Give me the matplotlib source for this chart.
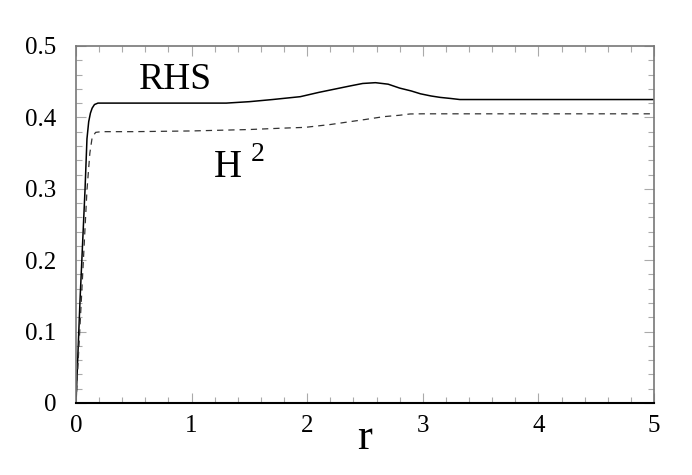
import numpy as np
import matplotlib.pyplot as plt

# RHS curve (solid)
r_rhs = [0.0, 0.035, 0.078, 0.095, 0.11, 0.125, 0.14, 0.16, 0.19, 0.5, 1.0, 1.3, 1.5, 1.7, 1.94, 2.1, 2.25, 2.37, 2.48, 2.59, 2.7, 2.8, 2.9, 2.98, 3.07, 3.15, 3.24, 3.32, 3.5, 4.0, 5.0]
v_rhs = [0.0, 0.144, 0.298, 0.370, 0.394, 0.406, 0.413, 0.418, 0.420, 0.420, 0.420, 0.420, 0.422, 0.425, 0.429, 0.435, 0.440, 0.444, 0.4475, 0.4486, 0.4465, 0.441, 0.437, 0.433, 0.430, 0.428, 0.4265, 0.425, 0.425, 0.425, 0.425]

# H^2 curve (dashed)
r_h2 = [0.0, 0.045, 0.095, 0.12, 0.14, 0.17, 0.22, 0.5, 1.0, 1.5, 1.8, 1.98, 2.2, 2.37, 2.5, 2.66, 2.8, 2.89, 3.0, 3.5, 5.0]
v_h2 = [0.0, 0.14, 0.298, 0.350, 0.372, 0.379, 0.380, 0.380, 0.381, 0.383, 0.385, 0.386, 0.390, 0.394, 0.397, 0.401, 0.403, 0.4048, 0.405, 0.405, 0.405]

xticks = [0, 1, 2, 3, 4, 5]
yticks = [0, 0.1, 0.2, 0.3, 0.4, 0.5]
ytick_labels = ['0', '0.1', '0.2', '0.3', '0.4', '0.5']

plt.rcParams['font.family'] = 'serif'
plt.rcParams['font.serif'] = ['Liberation Serif', 'DejaVu Serif']

fig = plt.figure(figsize=(6.92, 4.75), dpi=100)
ax = fig.add_axes([0.1098, 0.1516, 0.8354, 0.7516])

ax.plot(r_rhs, v_rhs, color='black', lw=1.1)
ax.plot(r_h2, v_h2, color='#333333', lw=0.9, dashes=(5, 4))

ax.set_xlim(0, 5)
ax.set_ylim(0, 0.5)
ax.set_xticks(xticks)
ax.set_xticklabels([str(t) for t in xticks])
ax.set_yticks(yticks)
ax.set_yticklabels(ytick_labels)
ax.set_xticks(np.arange(0, 5.01, 0.2), minor=True)
ax.set_yticks(np.arange(0, 0.501, 0.02), minor=True)

ax.tick_params(which='both', direction='in', top=True, right=True, color='#aaaaaa', labelsize=18)
ax.tick_params(which='major', length=7, width=0.8)
ax.tick_params(which='minor', length=4, width=0.8)
ax.tick_params(axis='x', pad=9)
ax.tick_params(axis='y', pad=14)

for s in ['left', 'top', 'right']:
    ax.spines[s].set_color('#777777')
    ax.spines[s].set_linewidth(1.2)
ax.spines['bottom'].set_color('black')
ax.spines['bottom'].set_linewidth(1.5)

ax.set_xlabel('r', fontsize=32, labelpad=-14)

ax.text(0.54, 0.440, 'RHS', fontsize=27, ha='left', va='baseline')
ax.text(1.19, 0.316, 'H', fontsize=28, ha='left', va='baseline')
ax.text(1.51, 0.339, '2', fontsize=20, ha='left', va='baseline')

fig.savefig('out.png', dpi=100)
